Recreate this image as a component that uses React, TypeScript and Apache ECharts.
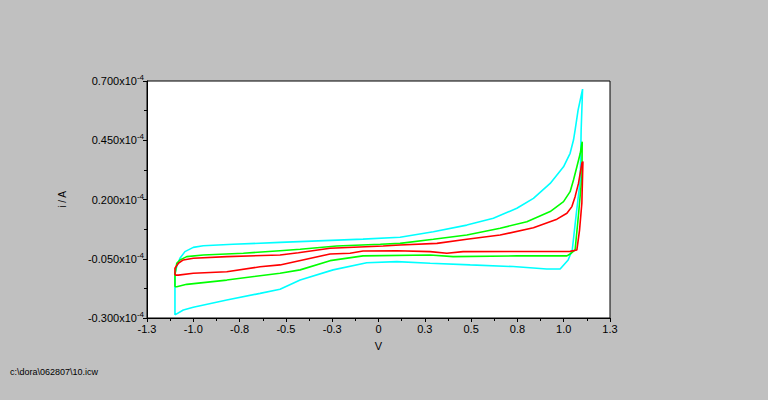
import React, { useEffect, useRef } from "react";
import * as echarts from "echarts";

// Potential (V) and current (x10^-4 A), each loop closed
const redV = [-1.143, -1.143, -1.124, -1.096, -1.04, -0.852, -0.553, -0.45, -0.272, 0.026, 0.121, 0.328, 0.496, 0.683, 0.87, 1.002, 1.058, 1.086, 1.104, 1.123, 1.142, 1.148, 1.142, 1.129, 1.114, 1.076, 0.475, 0.384, 0.29, 0.103, -0.087, -0.16, -0.272, -0.553, -0.665, -0.852, -1.04, -1.124, -1.143];
const redI = [-0.119, -0.09, -0.069, -0.055, -0.048, -0.041, -0.034, -0.025, -0.006, 0.004, 0.008, 0.015, 0.032, 0.05, 0.081, 0.117, 0.142, 0.17, 0.212, 0.268, 0.353, 0.36, 0.185, 0.071, -0.013, -0.019, -0.02, -0.027, -0.02, -0.016, -0.017, -0.027, -0.03, -0.076, -0.084, -0.105, -0.111, -0.119, -0.119];

const greenV = [-1.143, -1.143, -1.133, -1.115, -1.077, -0.984, -0.759, -0.553, -0.44, -0.234, 0.01, 0.121, 0.308, 0.496, 0.683, 0.833, 0.964, 1.039, 1.076, 1.095, 1.114, 1.133, 1.142, 1.144, 1.142, 1.123, 1.104, 1.076, 1.058, 0.777, 0.419, 0.29, -0.087, -0.272, -0.44, -0.553, -0.852, -1.077, -1.133, -1.143];
const greenI = [-0.168, -0.119, -0.069, -0.055, -0.041, -0.034, -0.027, -0.016, -0.01, 0.004, 0.011, 0.015, 0.032, 0.05, 0.079, 0.106, 0.149, 0.191, 0.233, 0.282, 0.338, 0.395, 0.437, 0.444, 0.295, 0.135, -0.013, -0.03, -0.038, -0.038, -0.041, -0.034, -0.038, -0.058, -0.097, -0.111, -0.14, -0.158, -0.168, -0.168];

const cyanV = [-1.143, -1.143, -1.133, -1.115, -1.087, -1.04, -0.984, -0.817, -0.553, -0.087, 0.121, 0.308, 0.496, 0.645, 0.777, 0.87, 0.964, 1.039, 1.076, 1.095, 1.104, 1.121, 1.133, 1.146, 1.138, 1.133, 1.11, 1.088, 1.065, 1.02, 0.945, 0.756, 0.515, 0.29, 0.103, -0.066, -0.255, -0.44, -0.553, -0.665, -0.852, -1.04, -1.096, -1.143];
const cyanI = [-0.287, -0.111, -0.083, -0.048, -0.02, -0.002, 0.005, 0.011, 0.019, 0.033, 0.041, 0.064, 0.092, 0.121, 0.163, 0.205, 0.268, 0.338, 0.395, 0.451, 0.493, 0.578, 0.62, 0.666, 0.493, 0.282, 0.135, -0.013, -0.055, -0.093, -0.093, -0.083, -0.076, -0.069, -0.062, -0.067, -0.097, -0.14, -0.179, -0.196, -0.224, -0.255, -0.266, -0.287];

const xName = "V";
const yName = "i / A";
const fileLabel = "c:\\dora\\062807\\10.icw";

const zip = (xs: number[], ys: number[]) => xs.map((x, i) => [x, ys[i]]);

const FONT = "'Liberation Sans', Arial, sans-serif";

export default function App() {
  const ref = useRef<HTMLDivElement>(null);
  useEffect(() => {
    if (!ref.current) return;
    const chart = echarts.init(ref.current, null, { renderer: "svg" });
    const mk = (name: string, color: string, xs: number[], ys: number[]) => ({
      name,
      type: "line",
      data: zip(xs, ys),
      showSymbol: false,
      symbol: "none",
      lineStyle: { color, width: 1.6 },
      itemStyle: { color },
    });
    chart.setOption({
      animation: false,
      backgroundColor: "#c0c0c0",
      textStyle: { fontFamily: FONT },
      grid: {
        left: 147,
        right: 158,
        top: 81,
        bottom: 82,
        show: true,
        backgroundColor: "#ffffff",
        borderColor: "#000000",
        borderWidth: 1,
      },
      xAxis: {
        type: "value",
        min: -1.3,
        max: 1.3,
        interval: 0.26,
        name: xName,
        nameLocation: "middle",
        nameGap: 22,
        nameTextStyle: { color: "#000", fontSize: 11, fontFamily: FONT },
        axisLine: { show: true, onZero: false, lineStyle: { color: "#000", width: 1 } },
        axisTick: { show: true, inside: false, length: 4, lineStyle: { color: "#000" } },
        minorTick: { show: true, splitNumber: 2, length: 3, lineStyle: { color: "#000" } },
        splitLine: { show: false },
        axisLabel: {
          color: "#000",
          fontSize: 11,
          fontFamily: FONT,
          margin: 5,
          formatter: (v: number) => (Math.abs(v) < 1e-9 ? "0" : v.toFixed(1)),
        },
      },
      yAxis: {
        type: "value",
        min: -0.3,
        max: 0.7,
        interval: 0.25,
        name: yName,
        nameLocation: "middle",
        nameGap: 80,
        nameRotate: 90,
        nameTextStyle: { color: "#000", fontSize: 10, fontFamily: FONT },
        axisLine: { show: true, onZero: false, lineStyle: { color: "#000", width: 1 } },
        axisTick: { show: true, inside: false, length: 4, lineStyle: { color: "#000" } },
        minorTick: { show: true, splitNumber: 2, length: 3, lineStyle: { color: "#000" } },
        splitLine: { show: false },
        axisLabel: {
          color: "#000",
          fontSize: 11,
          fontFamily: FONT,
          margin: 3,
          formatter: (v: number) => `{a|${v.toFixed(3)}x10}{b|-4}`,
          rich: {
            a: { fontSize: 11, color: "#000", fontFamily: FONT },
            b: { fontSize: 8, color: "#000", fontFamily: FONT, verticalAlign: "bottom", padding: [0, 0, 7, 0] },
          },
        },
      },
      graphic: [
        {
          type: "text",
          left: 10,
          top: 367,
          style: { text: fileLabel, fill: "#000", fontSize: 9, fontFamily: FONT },
        },
      ],
      series: [
        mk("cyan", "#00ffff", cyanV, cyanI),
        mk("green", "#00ff00", greenV, greenI),
        mk("red", "#ff0000", redV, redI),
      ],
    });
    return () => chart.dispose();
  }, []);
  return (
    <div
      ref={ref}
      style={{ position: "fixed", left: 0, top: 0, width: 768, height: 400 }}
    />
  );
}
